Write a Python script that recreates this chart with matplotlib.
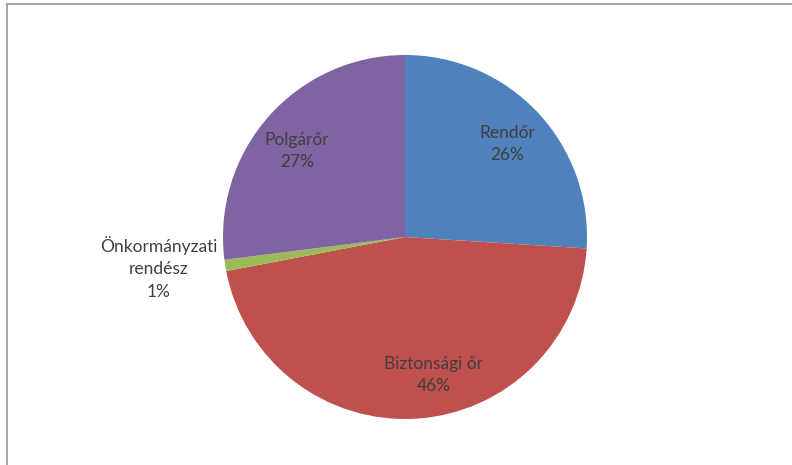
import matplotlib
matplotlib.use("Agg")
import matplotlib.pyplot as plt
from matplotlib.lines import Line2D

categories = ["Rendőr", "Biztonsági őr", "Önkormányzati\nrendész", "Polgárőr"]
values = [26, 46, 1, 27]
pct_labels = ["26%", "46%", "1%", "27%"]
colors = ["#4F81BD", "#C0504D", "#9BBB59", "#8064A2"]

W, H = 792, 465
fig = plt.figure(figsize=(W / 100, H / 100), dpi=100)
ax = fig.add_axes([0, 0, 1, 1])

cx, cy, r = 405, H - 237, 182
ax.pie(values, colors=colors, startangle=90, counterclock=False,
       center=(cx, cy), radius=r, frame=True,
       wedgeprops=dict(linewidth=0))
ax.set_xlim(0, W)
ax.set_ylim(0, H)
ax.set_aspect("equal")
ax.axis("off")

label_pos = [(507, 144), (434, 375), (159, 268), (297, 151)]
for cat, pct, (x, y) in zip(categories, pct_labels, label_pos):
    ax.text(x, H - y, f"{cat}\n{pct}", ha="center", va="center",
            fontsize=12.5, family=["Lato", "DejaVu Sans"], color="#404040",
            linespacing=1.5)

# chart frame (partially visible)
fig.add_artist(Line2D([7 / W, 1], [1 - 4.5 / H, 1 - 4.5 / H],
                      transform=fig.transFigure, color="#A6A6A6", lw=1.5))
fig.add_artist(Line2D([7 / W, 7 / W], [0, 1 - 4.5 / H],
                      transform=fig.transFigure, color="#A6A6A6", lw=1.5))

fig.savefig("out.png", dpi=100, facecolor="white")
